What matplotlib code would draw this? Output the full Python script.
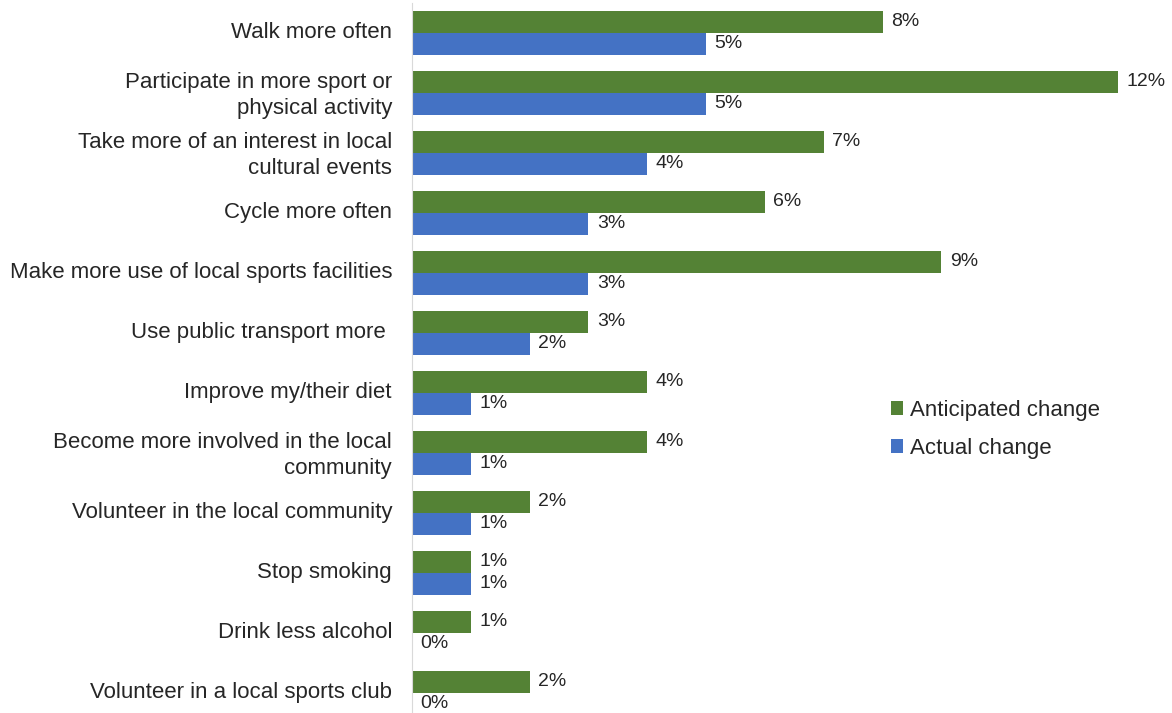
import matplotlib.pyplot as plt
import matplotlib.transforms as mtransforms
import numpy as np

plt.rcParams['font.family'] = ['Liberation Sans', 'DejaVu Sans']

categories = [
    "Walk more often",
    "Participate in more sport or\nphysical activity",
    "Take more of an interest in local\ncultural events",
    "Cycle more often",
    "Make more use of local sports facilities",
    "Use public transport more ",
    "Improve my/their diet",
    "Become more involved in the local\ncommunity",
    "Volunteer in the local community",
    "Stop smoking",
    "Drink less alcohol",
    "Volunteer in a local sports club",
]
anticipated = [8, 12, 7, 6, 9, 3, 4, 4, 2, 1, 1, 2]
actual = [5, 5, 4, 3, 3, 2, 1, 1, 1, 1, 0, 0]

green = '#548235'
blue = '#4472C4'
txt = '#262626'

fig = plt.figure(figsize=(11.72, 7.13), dpi=100)
ax = fig.add_axes([412 / 1172, 0, 760 / 1172, 710 / 713])

y = np.arange(len(categories))
h = 0.367
bars_a = ax.barh(y - h / 2, anticipated, height=h, color=green, label='Anticipated change')
bars_b = ax.barh(y + h / 2, actual, height=h, color=blue, label='Actual change')

for bars, vals in ((bars_a, anticipated), (bars_b, actual)):
    for b, v in zip(bars, vals):
        ax.annotate(f"{v}%", (v, b.get_y() + b.get_height() / 2),
                    xytext=(6, 0.5), textcoords='offset points',
                    va='center', ha='left', fontsize=14, color=txt)

ax.set_xlim(0, 12.92)
ax.set_ylim(11.333, -0.5)
ax.set_yticks(y)
ax.set_yticklabels(categories, fontsize=16, color=txt, ha='right', linespacing=1.35)
ax.tick_params(axis='y', length=0, pad=14.4)
# nudge category labels up a little
shift = mtransforms.ScaledTranslation(0, 3 / 100, fig.dpi_scale_trans)
for lab in ax.get_yticklabels():
    lab.set_transform(lab.get_transform() + shift)
ax.set_xticks([])
for s in ('top', 'right', 'bottom'):
    ax.spines[s].set_visible(False)
ax.spines['left'].set_color('#D9D9D9')

ax.legend(loc='upper left', bbox_to_anchor=(459 / 760, 333 / 710), frameon=False,
          fontsize=16, handlelength=0.55, handleheight=0.55, handletextpad=0.3,
          labelspacing=0.75, labelcolor=txt)

fig.savefig('out.png', dpi=100)
